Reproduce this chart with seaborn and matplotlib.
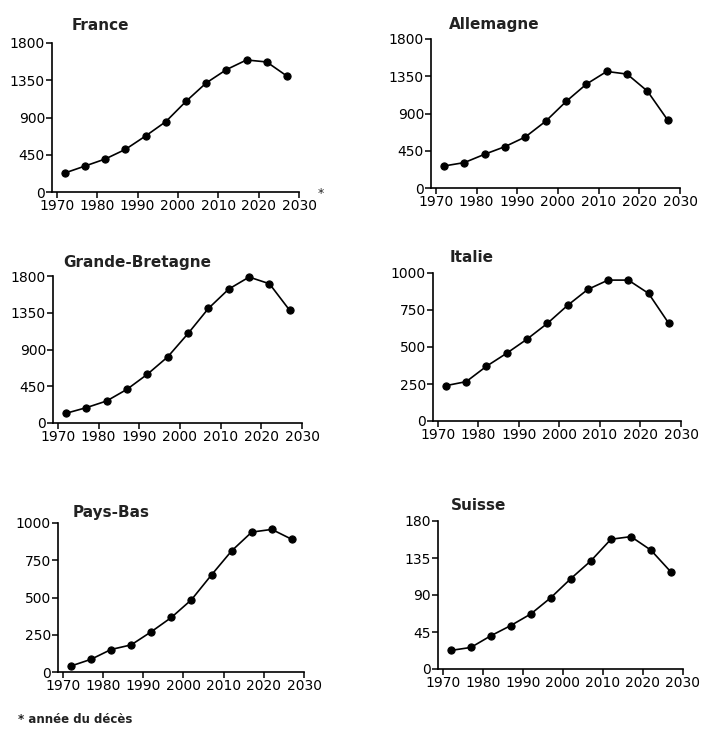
import matplotlib
matplotlib.use("Agg")
import matplotlib.pyplot as plt
import seaborn as sns
import pandas as pd

# Years (middle of each 5-year band)
YEARS = [1972, 1977, 1982, 1987, 1992, 1997, 2002, 2007, 2012, 2017, 2022, 2027]

FRANCE = [230, 314, 399, 515, 677, 850, 1095, 1317, 1478, 1595, 1571, 1401]
ALLEMAGNE = [266, 307, 408, 500, 617, 807, 1045, 1255, 1408, 1376, 1170, 819]
GRANDE_BRETAGNE = [119, 188, 270, 413, 597, 810, 1096, 1403, 1640, 1787, 1705, 1378]
ITALIE = [239, 266, 370, 458, 553, 659, 781, 889, 952, 952, 862, 659]
PAYS_BAS = [40, 85, 151, 182, 270, 366, 485, 652, 813, 939, 957, 890]
SUISSE = [22.6, 26.2, 40.4, 52.9, 67, 86.8, 110, 131.6, 157.8, 161, 144.5, 117.9]

X_TICKS = [1970, 1980, 1990, 2000, 2010, 2020, 2030]
Y_TICKS_1800 = [0, 450, 900, 1350, 1800]
Y_TICKS_1000 = [0, 250, 500, 750, 1000]
Y_TICKS_180 = [0, 45, 90, 135, 180]

# (name, values, yticks, axes box in pixels: left, top, right, bottom, title x/y in pixels)
PANELS = [
    ("France", FRANCE, Y_TICKS_1800, (52, 43, 299, 192), (72, 25)),
    ("Allemagne", ALLEMAGNE, Y_TICKS_1800, (431, 39, 680, 188), (449, 24)),
    ("Grande-Bretagne", GRANDE_BRETAGNE, Y_TICKS_1800, (53, 276, 302, 423), (63, 263)),
    ("Italie", ITALIE, Y_TICKS_1000, (433, 273, 681, 421), (450, 258)),
    ("Pays-Bas", PAYS_BAS, Y_TICKS_1000, (58, 523, 304, 672), (73, 513)),
    ("Suisse", SUISSE, Y_TICKS_180, (438, 521, 683, 669), (451, 506)),
]

W, H = 702, 729

sns.set_theme(style="ticks")
plt.rcParams['font.family'] = ['DejaVu Sans']

fig = plt.figure(figsize=(W / 100, H / 100), dpi=100)

for name, values, yticks, (l, t, r, b), (tx, ty) in PANELS:
    ax = fig.add_axes([l / W, 1 - b / H, (r - l) / W, (b - t) / H])
    df = pd.DataFrame({"annee": YEARS, "valeur": values})
    sns.lineplot(data=df, x="annee", y="valeur", ax=ax, color="black",
                 linewidth=1.2, marker="o", markersize=5.2,
                 markeredgecolor="black", clip_on=False)
    ax.set_xlim(1968.8, 2030)
    ax.set_ylim(0, yticks[-1])
    ax.set_xticks(X_TICKS)
    ax.set_yticks(yticks)
    ax.set_xlabel("")
    ax.set_ylabel("")
    sns.despine(ax=ax)
    for side in ("left", "bottom"):
        ax.spines[side].set_linewidth(1.2)
        ax.spines[side].set_color("black")
    ax.tick_params(axis="both", length=4, width=1.1, colors="black",
                   labelsize=10, pad=1)
    fig.text(tx / W, 1 - ty / H, name, fontsize=11, fontweight="bold",
             ha="left", va="center", color="#222222")

# asterisk after 2030 on France
fig.text(318 / W, 1 - 194 / H, "*", fontsize=9, ha="left", va="center")

fig.text(18 / W, 1 - 713 / H, "* année du décès", fontsize=8.5,
         fontweight="bold", ha="left", va="top", color="#222222")

fig.savefig("out.png", dpi=100, facecolor="white")
